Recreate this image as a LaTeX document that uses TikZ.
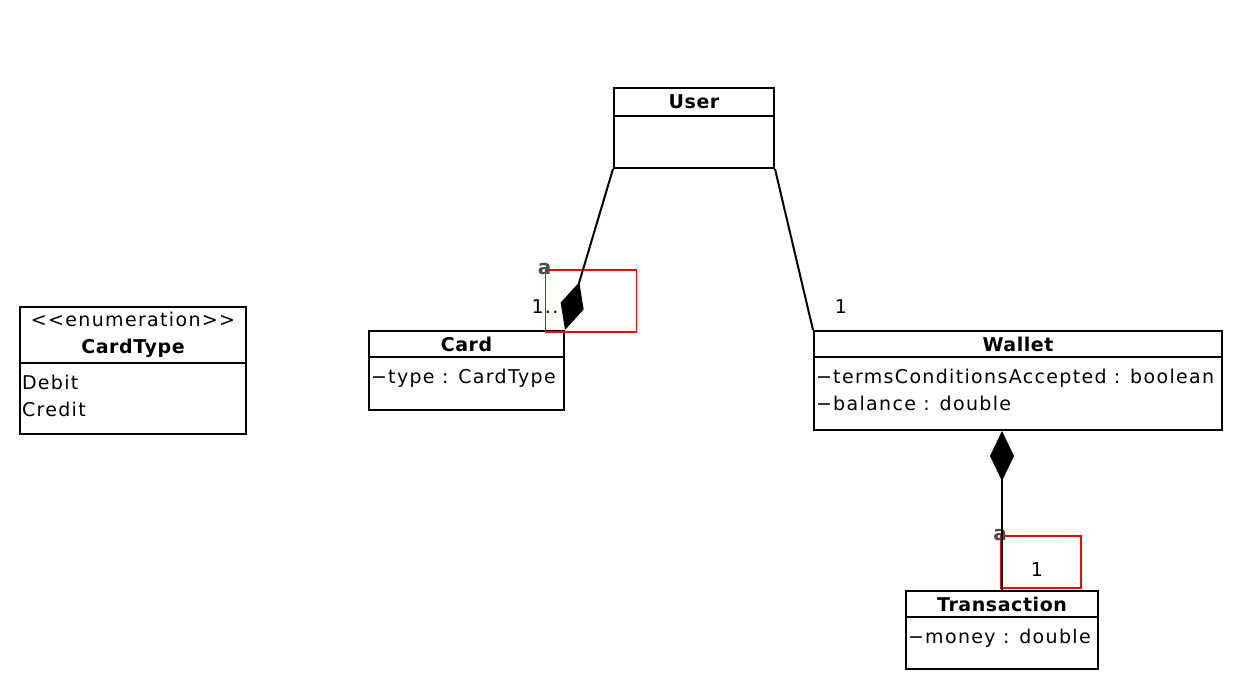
\documentclass[tikz,border=0pt]{standalone}
\usepackage{fontspec}
\setmainfont{DejaVu Sans}[LetterSpace=7, BoldFeatures={LetterSpace=3}]
\usetikzlibrary{arrows.meta, positioning}

\tikzset{
  classbox/.style={draw, line width=2pt, inner sep=0pt},
  headbox/.style={draw, line width=2pt, inner sep=0pt, anchor=north, align=center},
  attrs/.style={align=left, inner xsep=2pt, inner ysep=10pt},
  labelbox/.style={draw=red, line width=1.8pt, inner sep=0pt},
  marker/.style={inner sep=0pt, text=black!70, font=\fontsize{20}{20}\selectfont\bfseries},
  comp/.style={{Diamond[length=50pt,width=24pt]}-},
}

\begin{document}
\begin{tikzpicture}[x=1pt, y=-1pt, line width=2pt, font=\fontsize{19}{27}\selectfont]
        \useasboundingbox (0,0) rectangle (1252,690);

        % Classes:
        \node[classbox, minimum width=160pt, minimum height=80pt] (user) at (694,128) {};
        \node[headbox, minimum width=160pt, minimum height=28pt] (userhead) at (user.north) {\bfseries User};

        \node[classbox, minimum width=226pt, minimum height=127pt] (cardtype) at (133,370.5) {};
        \node[headbox, minimum width=226pt, minimum height=56pt] (cardtypehead) at (cardtype.north)
            {<{}<enumeration>{}>\\\bfseries CardType};
        \node[attrs, below right=0pt of cardtypehead.south west] (cardtypeattr) {Debit\\Credit};

        \node[classbox, minimum width=195pt, minimum height=79pt] (card) at (466.5,370.5) {};
        \node[headbox, minimum width=195pt, minimum height=26pt] (cardhead) at (card.north) {\bfseries Card};
        \node[attrs, below right=0pt of cardhead.south west] (cardattr) {−type : CardType};

        \node[classbox, minimum width=408pt, minimum height=99pt] (wallet) at (1018,380.5) {};
        \node[headbox, minimum width=408pt, minimum height=26pt] (wallethead) at (wallet.north) {\bfseries Wallet};
        \node[attrs, below right=0pt of wallethead.south west] (walletattr)
            {−termsConditionsAccepted : boolean\\−balance : double};

        \node[classbox, minimum width=192pt, minimum height=78pt] (transaction) at (1002,630) {};
        \node[headbox, minimum width=192pt, minimum height=26pt] (transactionhead) at (transaction.north) {\bfseries Transaction};
        \node[attrs, below right=0pt of transactionhead.south west] (transactionattr) {−money : double};

        % Label boxes:
        \node[labelbox, minimum width=91pt, minimum height=62pt] (cardlbl) at (591,301) {};
        \node[labelbox, minimum width=80pt, minimum height=52pt] (translbl) at (1041,562) {};
        \foreach \b in {cardlbl, translbl}{%
        \node[marker] (\b a) at (\b.north west) {a};
        }

        % Associations:
        \draw[comp] (card.north east) -- (user.south west);
        \draw (user.south east) -- (wallet.north west);
        \draw[comp] (wallet.south -| transaction.north) -- (transaction.north);

        % Multiplicity labels:
        \node[inner sep=0pt] (cardmult) at (545,307) {1..};
        \node[inner sep=0pt] (walletmult) at (841,307) {1};
        \node[inner sep=0pt] (transmult) at (1037,570) {1};

    \end{tikzpicture}
\end{document}
